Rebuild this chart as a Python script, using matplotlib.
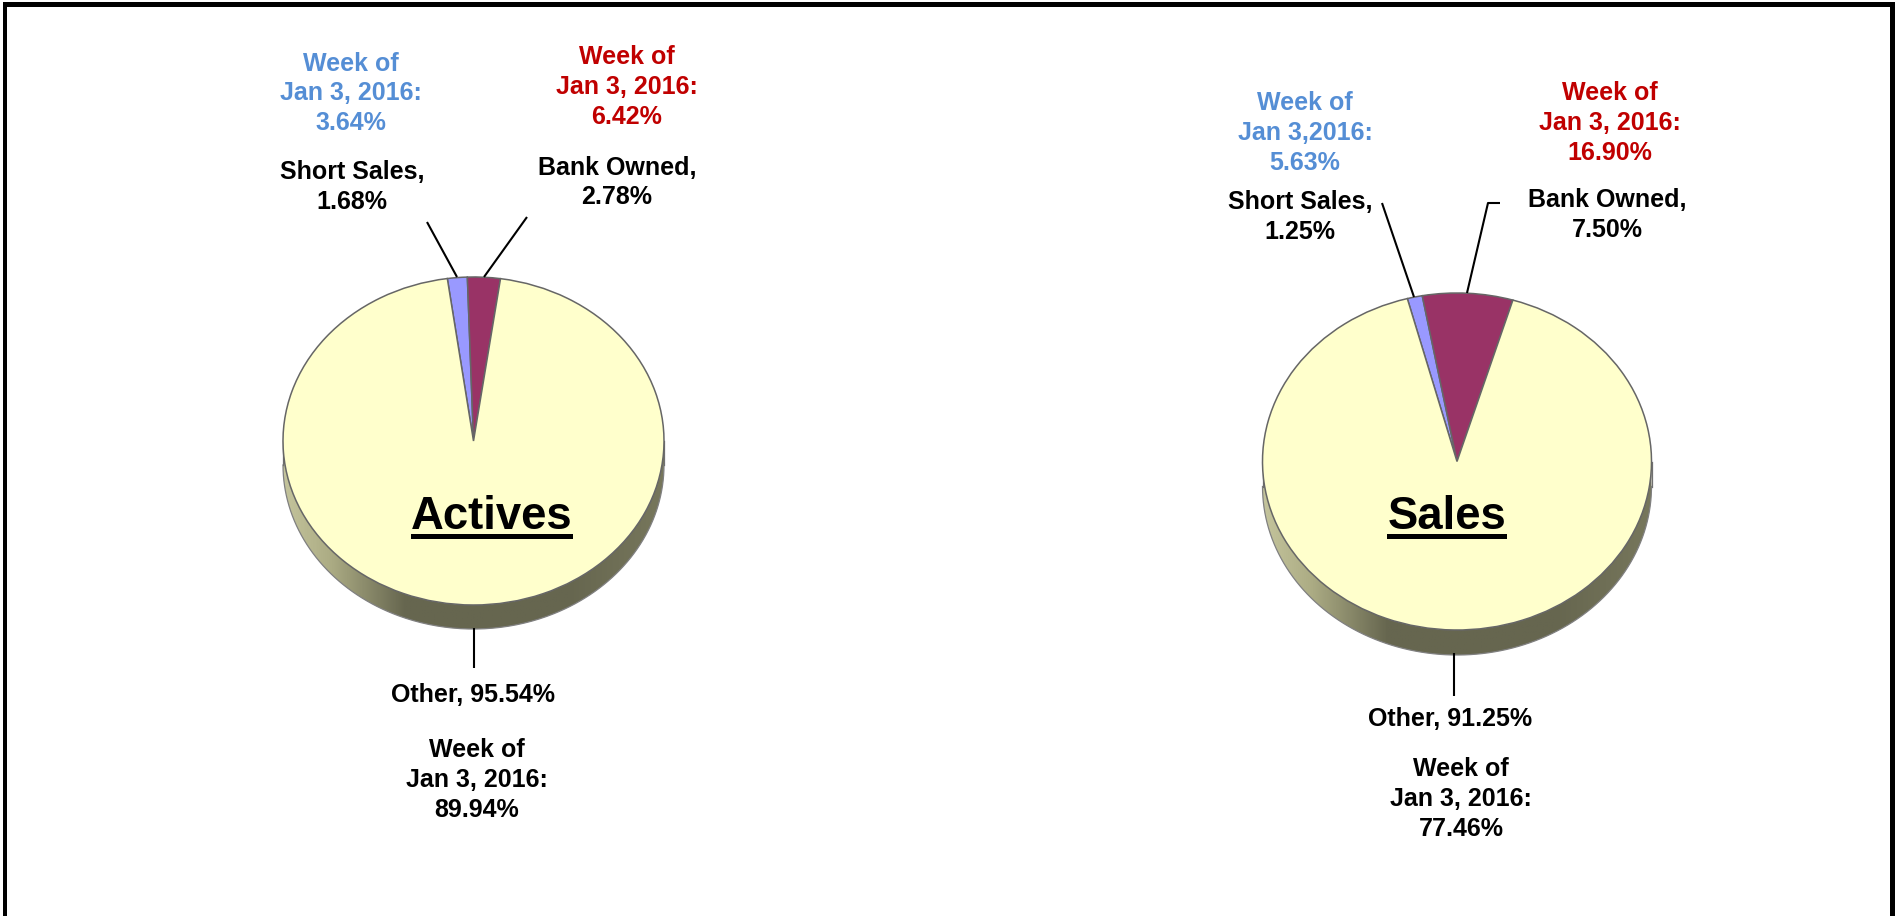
import numpy as np
import matplotlib
matplotlib.use("Agg")
import matplotlib.pyplot as plt
from matplotlib.colors import LinearSegmentedColormap
from matplotlib.patches import Polygon, Rectangle

W, H = 1898, 916

# chart values
categories = ["Short Sales", "Bank Owned", "Other"]
actives_now = [1.68, 2.78, 95.54]
sales_now = [1.25, 7.50, 91.25]
actives_prior = [3.64, 6.42, 89.94]
sales_prior = [5.63, 16.90, 77.46]
week_short = "Jan 3, 2016:"
week_short_sales = "Jan 3,2016:"

SLICE_COLORS = ["#9999FF", "#993366", "#FFFFCC"]
BLUE = "#558ED5"
RED = "#C00000"

plt.rcParams["font.family"] = ["Liberation Sans", "DejaVu Sans"]
plt.rcParams["font.weight"] = "bold"

side_cmap = LinearSegmentedColormap.from_list(
    "side",
    [(0.0, "#C4C49C"), (0.12, "#ADAD85"), (0.32, "#66664F"),
     (0.75, "#66664F"), (1.0, "#77775C")],
)


def draw_pie(fig, values, cx, cy, rx, ry, depth, start):
    """Flattened pie with a shaded rim, placed by pixel centre and radii."""
    d = depth / ry
    pad = 0.02
    left = (cx - rx * (1 + pad)) / W
    bottom = 1 - (cy + ry * (1 + pad + d)) / H
    width = 2 * rx * (1 + pad) / W
    height = ry * (2 + 2 * pad + d) / H
    ax = fig.add_axes([left, bottom, width, height], facecolor="none")

    wedges, _ = ax.pie(values, colors=SLICE_COLORS, startangle=start,
                       counterclock=False, radius=1,
                       wedgeprops=dict(edgecolor="#666666", linewidth=1.1, zorder=3))

    t = np.linspace(np.pi, 2 * np.pi, 300)
    upper_x, upper_y = np.cos(t), np.sin(t)
    rim = np.vstack([np.c_[upper_x, upper_y], np.c_[upper_x[::-1], upper_y[::-1] - d]])

    gradient = np.linspace(0, 1, 256).reshape(1, -1)
    im = ax.imshow(gradient, cmap=side_cmap, extent=(-1, 1, -1 - d, 0),
                   aspect="auto", zorder=1)
    im.set_clip_path(Polygon(rim, closed=True, transform=ax.transData))
    ax.plot(upper_x, upper_y - d, color="#808080", lw=0.9, zorder=2)
    ax.plot([-1, -1], [0, -d], color="#707070", lw=0.9, zorder=2)
    ax.plot([1, 1], [0, -d], color="#707070", lw=0.9, zorder=2)

    ax.set_aspect("auto")
    ax.set_xlim(-1 - pad, 1 + pad)
    ax.set_ylim(-1 - pad - d, 1 + pad)
    ax.axis("off")
    return ax


fig = plt.figure(figsize=(W / 100, H / 100), dpi=100, facecolor="white")

draw_pie(fig, actives_now, 473.5, 441, 190.5, 164, 24, 97.9)
draw_pie(fig, sales_now, 1457, 461.5, 194.5, 168.5, 25, 104.8)

# overlay in image pixels for the frame, leaders and labels
ov = fig.add_axes([0, 0, 1, 1], facecolor="none")
ov.set_xlim(0, W)
ov.set_ylim(H, 0)
ov.axis("off")

for x0, y0, w, h in [(3, 2, 4.5, H), (3, 2, 1892, 4.5), (1890, 2, 5, H)]:
    ov.add_patch(Rectangle((x0, y0), w, h, color="black", lw=0))

leaders = [
    ([427, 457], [222, 277]),
    ([527, 484], [217, 277]),
    ([474, 474], [628, 668]),
    ([1382, 1414], [203, 297]),
    ([1500, 1488, 1467], [203, 203, 293]),
    ([1454, 1454], [653, 696]),
]
for xs, ys in leaders:
    ov.plot(xs, ys, color="black", lw=1.5, solid_capstyle="butt")


def label(x, y, s, color="black"):
    ov.text(x, y, s, color=color, fontsize=18, ha="center", va="center",
            linespacing=1.29, fontweight="bold")


label(351, 93.5, f"Week of\n{week_short}\n{actives_prior[0]:.2f}%", BLUE)
label(627, 87, f"Week of\n{week_short}\n{actives_prior[1]:.2f}%", RED)
label(352, 187, f"{categories[0]},\n{actives_now[0]:.2f}%")
label(617, 182.5, f"{categories[1]},\n{actives_now[1]:.2f}%")
label(473, 694.5, f"{categories[2]}, {actives_now[2]:.2f}%")
label(477, 780, f"Week of\n{week_short}\n{actives_prior[2]:.2f}%")

label(1305, 133, f"Week of\n{week_short_sales}\n{sales_prior[0]:.2f}%", BLUE)
label(1610, 123, f"Week of\n{week_short}\n{sales_prior[1]:.2f}%", RED)
label(1300, 217, f"{categories[0]},\n{sales_now[0]:.2f}%")
label(1607, 215, f"{categories[1]},\n{sales_now[1]:.2f}%")
label(1450, 719, f"{categories[2]}, {sales_now[2]:.2f}%")
label(1461, 799, f"Week of\n{week_short}\n{sales_prior[2]:.2f}%")

# pie titles, underlined by hand
for name, xc, x0, x1 in [("Actives", 492, 411, 573), ("Sales", 1447, 1387, 1507)]:
    ov.text(xc, 529, name, color="black", fontsize=32.8, ha="center", va="baseline",
            fontweight="bold")
    ov.add_patch(Rectangle((x0, 534), x1 - x0, 4.5, color="black", lw=0))

fig.savefig("out.png", dpi=100)
